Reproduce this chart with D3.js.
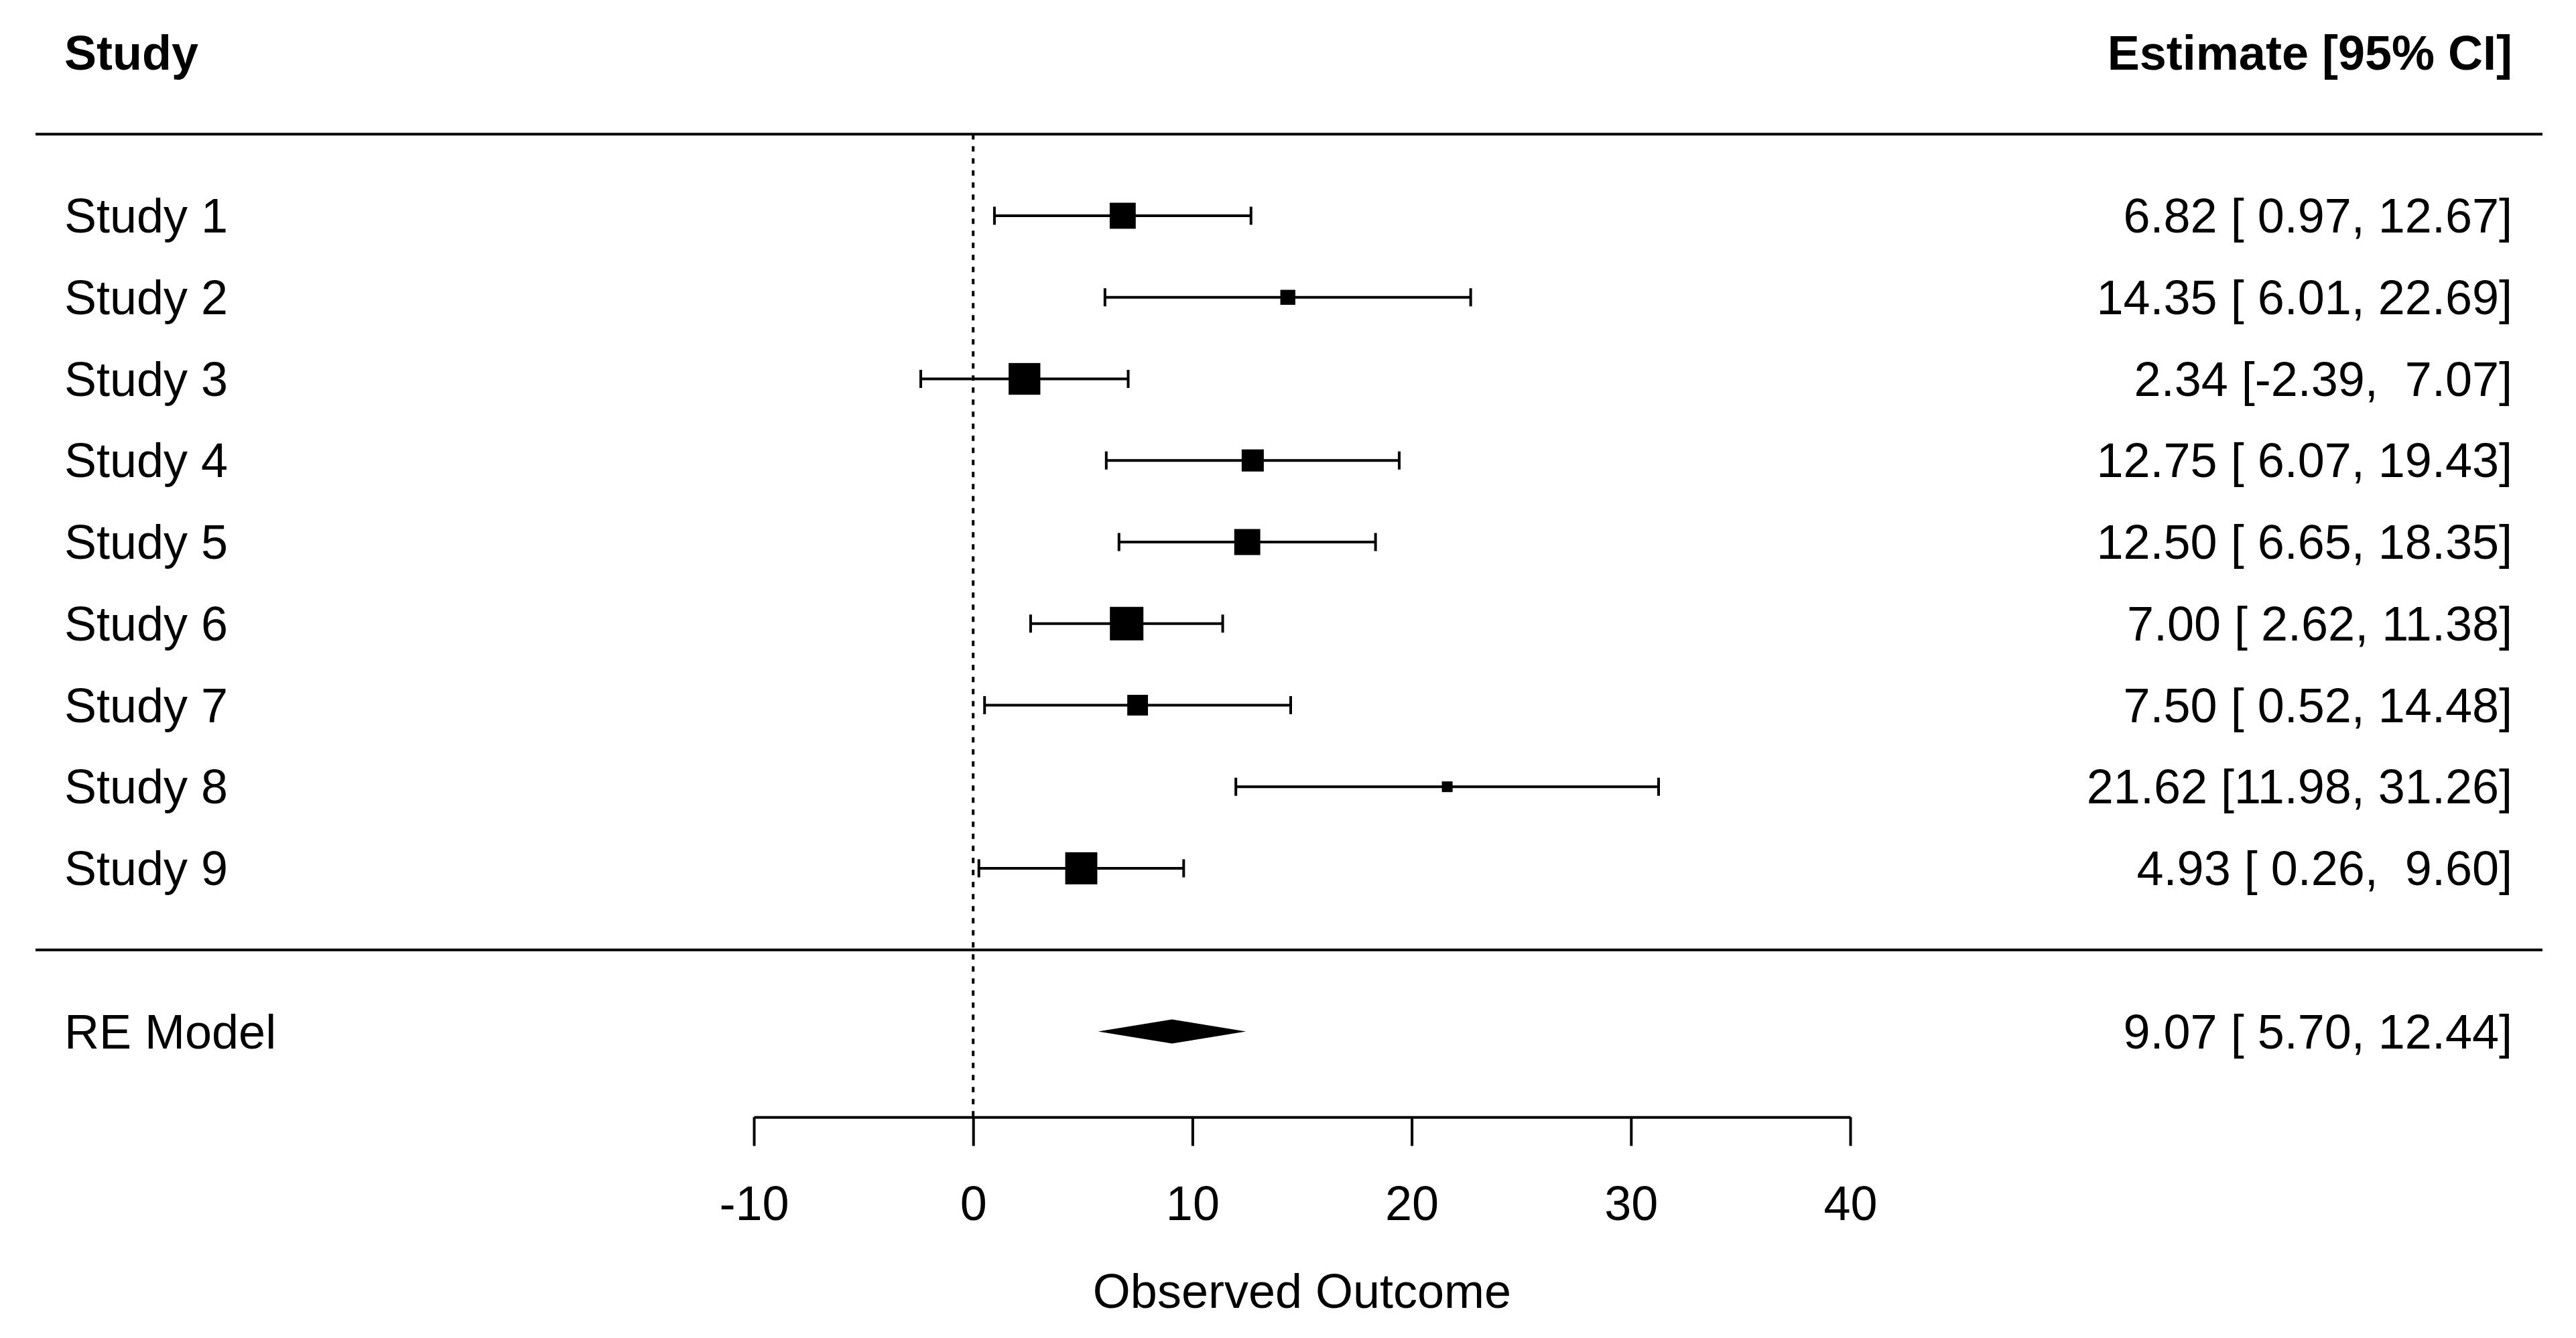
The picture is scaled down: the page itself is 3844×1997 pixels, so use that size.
<!DOCTYPE html>
<html>
<head>
<meta charset="utf-8">
<script src="https://cdn.jsdelivr.net/npm/d3@7"></script>
<style>
    body { margin: 0; background: #fff; }
    text { font-family: "Liberation Sans", Arial, sans-serif; fill: #000; white-space: pre; }
</style>
</head>
<body>
<div id="chart"></div>
<script>
// Data
const studies   = ["Study 1", "Study 2", "Study 3", "Study 4", "Study 5", "Study 6", "Study 7", "Study 8", "Study 9"];
const estimates = [6.82, 14.35, 2.34, 12.75, 12.50, 7.00, 7.50, 21.62, 4.93];
const lower     = [0.97, 6.01, -2.39, 6.07, 6.65, 2.62, 0.52, 11.98, 0.26];
const upper     = [12.67, 22.69, 7.07, 19.43, 18.35, 11.38, 14.48, 31.26, 9.60];
const weights   = [11.6, 8.5, 13.2, 10.5, 11.6, 13.7, 10.1, 7.3, 13.3]; // RE weights (%) -> box size

const summaryLabel = "RE Model";
const summary = {est: 9.07, lower: 5.70, upper: 12.44};

const xTicks      = [-10, 0, 10, 20, 30, 40];
const xTickLabels = ["-10", "0", "10", "20", "30", "40"];

const width = 3844, height = 1997;
const fontSize = 72;
const lineW = 4;

const data = studies.map((s, i) => ({
    name: s, est: estimates[i], lo: lower[i], hi: upper[i], w: weights[i], row: studies.length - i
}));

// Scales
const x = d3.scaleLinear().domain([-10, 40]).range([1125, 2761]);
const y = d3.scaleLinear().domain([9, 1]).range([322, 1296]);   // row number -> pixel
const boxSize = d3.scaleLinear().domain(d3.extent(weights)).range([16, 50]);

const fmt = d3.format(".2f");
const pad = v => { let s = fmt(v).replace("\u2212", "-"); while (s.length < 5) s = " " + s; return s; };
const ciText = (e, l, h) => `${fmt(e)} [${pad(l)}, ${pad(h)}]`;

const svg = d3.select("#chart")
    .append("svg")
    .attr("width", width)
    .attr("height", height);

const leftX = 96, rightX = 3749, lineL = 53, lineR = 3794;
const axisY = y(-2.05);

// Header
svg.append("text")
    .attr("x", leftX).attr("y", y(11) + 25)
    .style("font-size", fontSize + "px").style("font-weight", "bold")
    .text("Study");
svg.append("text")
    .attr("x", rightX).attr("y", y(11) + 25)
    .attr("text-anchor", "end")
    .style("font-size", fontSize + "px").style("font-weight", "bold")
    .text("Estimate [95% CI]");

// Horizontal separators
[10, 0].forEach(r => {
    svg.append("line")
        .attr("x1", lineL).attr("x2", lineR)
        .attr("y1", y(r)).attr("y2", y(r))
        .attr("stroke", "#000").attr("stroke-width", lineW);
});

// Reference line at 0
svg.append("line")
    .attr("x1", x(0)).attr("x2", x(0))
    .attr("y1", y(10)).attr("y2", axisY)
    .attr("stroke", "#000").attr("stroke-width", lineW)
    .attr("stroke-dasharray", "8,10");

// Study rows
const rows = svg.selectAll(".study")
    .data(data)
    .enter()
    .append("g")
    .attr("class", "study");

rows.append("line")
    .attr("x1", d => x(d.lo)).attr("x2", d => x(d.hi))
    .attr("y1", d => y(d.row)).attr("y2", d => y(d.row))
    .attr("stroke", "#000").attr("stroke-width", lineW);

// whisker ends
["lo", "hi"].forEach(k => {
    rows.append("line")
        .attr("x1", d => x(d[k])).attr("x2", d => x(d[k]))
        .attr("y1", d => y(d.row) - 13.5).attr("y2", d => y(d.row) + 13.5)
        .attr("stroke", "#000").attr("stroke-width", lineW);
});

rows.append("rect")
    .attr("x", d => x(d.est) - boxSize(d.w) / 2)
    .attr("y", d => y(d.row) - boxSize(d.w) / 2)
    .attr("width", d => boxSize(d.w))
    .attr("height", d => boxSize(d.w))
    .attr("fill", "#000");

rows.append("text")
    .attr("x", leftX).attr("y", d => y(d.row) + 25)
    .style("font-size", fontSize + "px")
    .text(d => d.name);

rows.append("text")
    .attr("x", rightX).attr("y", d => y(d.row) + 25)
    .attr("text-anchor", "end")
    .style("font-size", fontSize + "px")
    .text(d => ciText(d.est, d.lo, d.hi));

// Summary diamond
const sy = y(-1);
svg.append("polygon")
    .attr("points", [
        [x(summary.lower), sy], [x(summary.est), sy - 18],
        [x(summary.upper), sy], [x(summary.est), sy + 18]
    ].map(p => p.join(",")).join(" "))
    .attr("fill", "#000");

svg.append("text")
    .attr("x", leftX).attr("y", sy + 25)
    .style("font-size", fontSize + "px")
    .text(summaryLabel);

svg.append("text")
    .attr("x", rightX).attr("y", sy + 25)
    .attr("text-anchor", "end")
    .style("font-size", fontSize + "px")
    .text(ciText(summary.est, summary.lower, summary.upper));

// X axis
const axis = svg.append("g")
    .attr("transform", `translate(0, ${axisY})`)
    .call(d3.axisBottom(x)
        .tickValues(xTicks)
        .tickFormat((d, i) => xTickLabels[i])
        .tickSize(43)
        .tickSizeOuter(0)
        .tickPadding(60));

axis.selectAll("line, path").attr("stroke", "#000").attr("stroke-width", lineW);
axis.selectAll("text")
    .style("font-size", fontSize + "px")
    .attr("font-family", null)
    .attr("fill", "#000");

// X axis label
svg.append("text")
    .attr("x", (x.range()[0] + x.range()[1]) / 2)
    .attr("y", 1952)
    .attr("text-anchor", "middle")
    .style("font-size", fontSize + "px")
    .text("Observed Outcome");
</script>
</body>
</html>
